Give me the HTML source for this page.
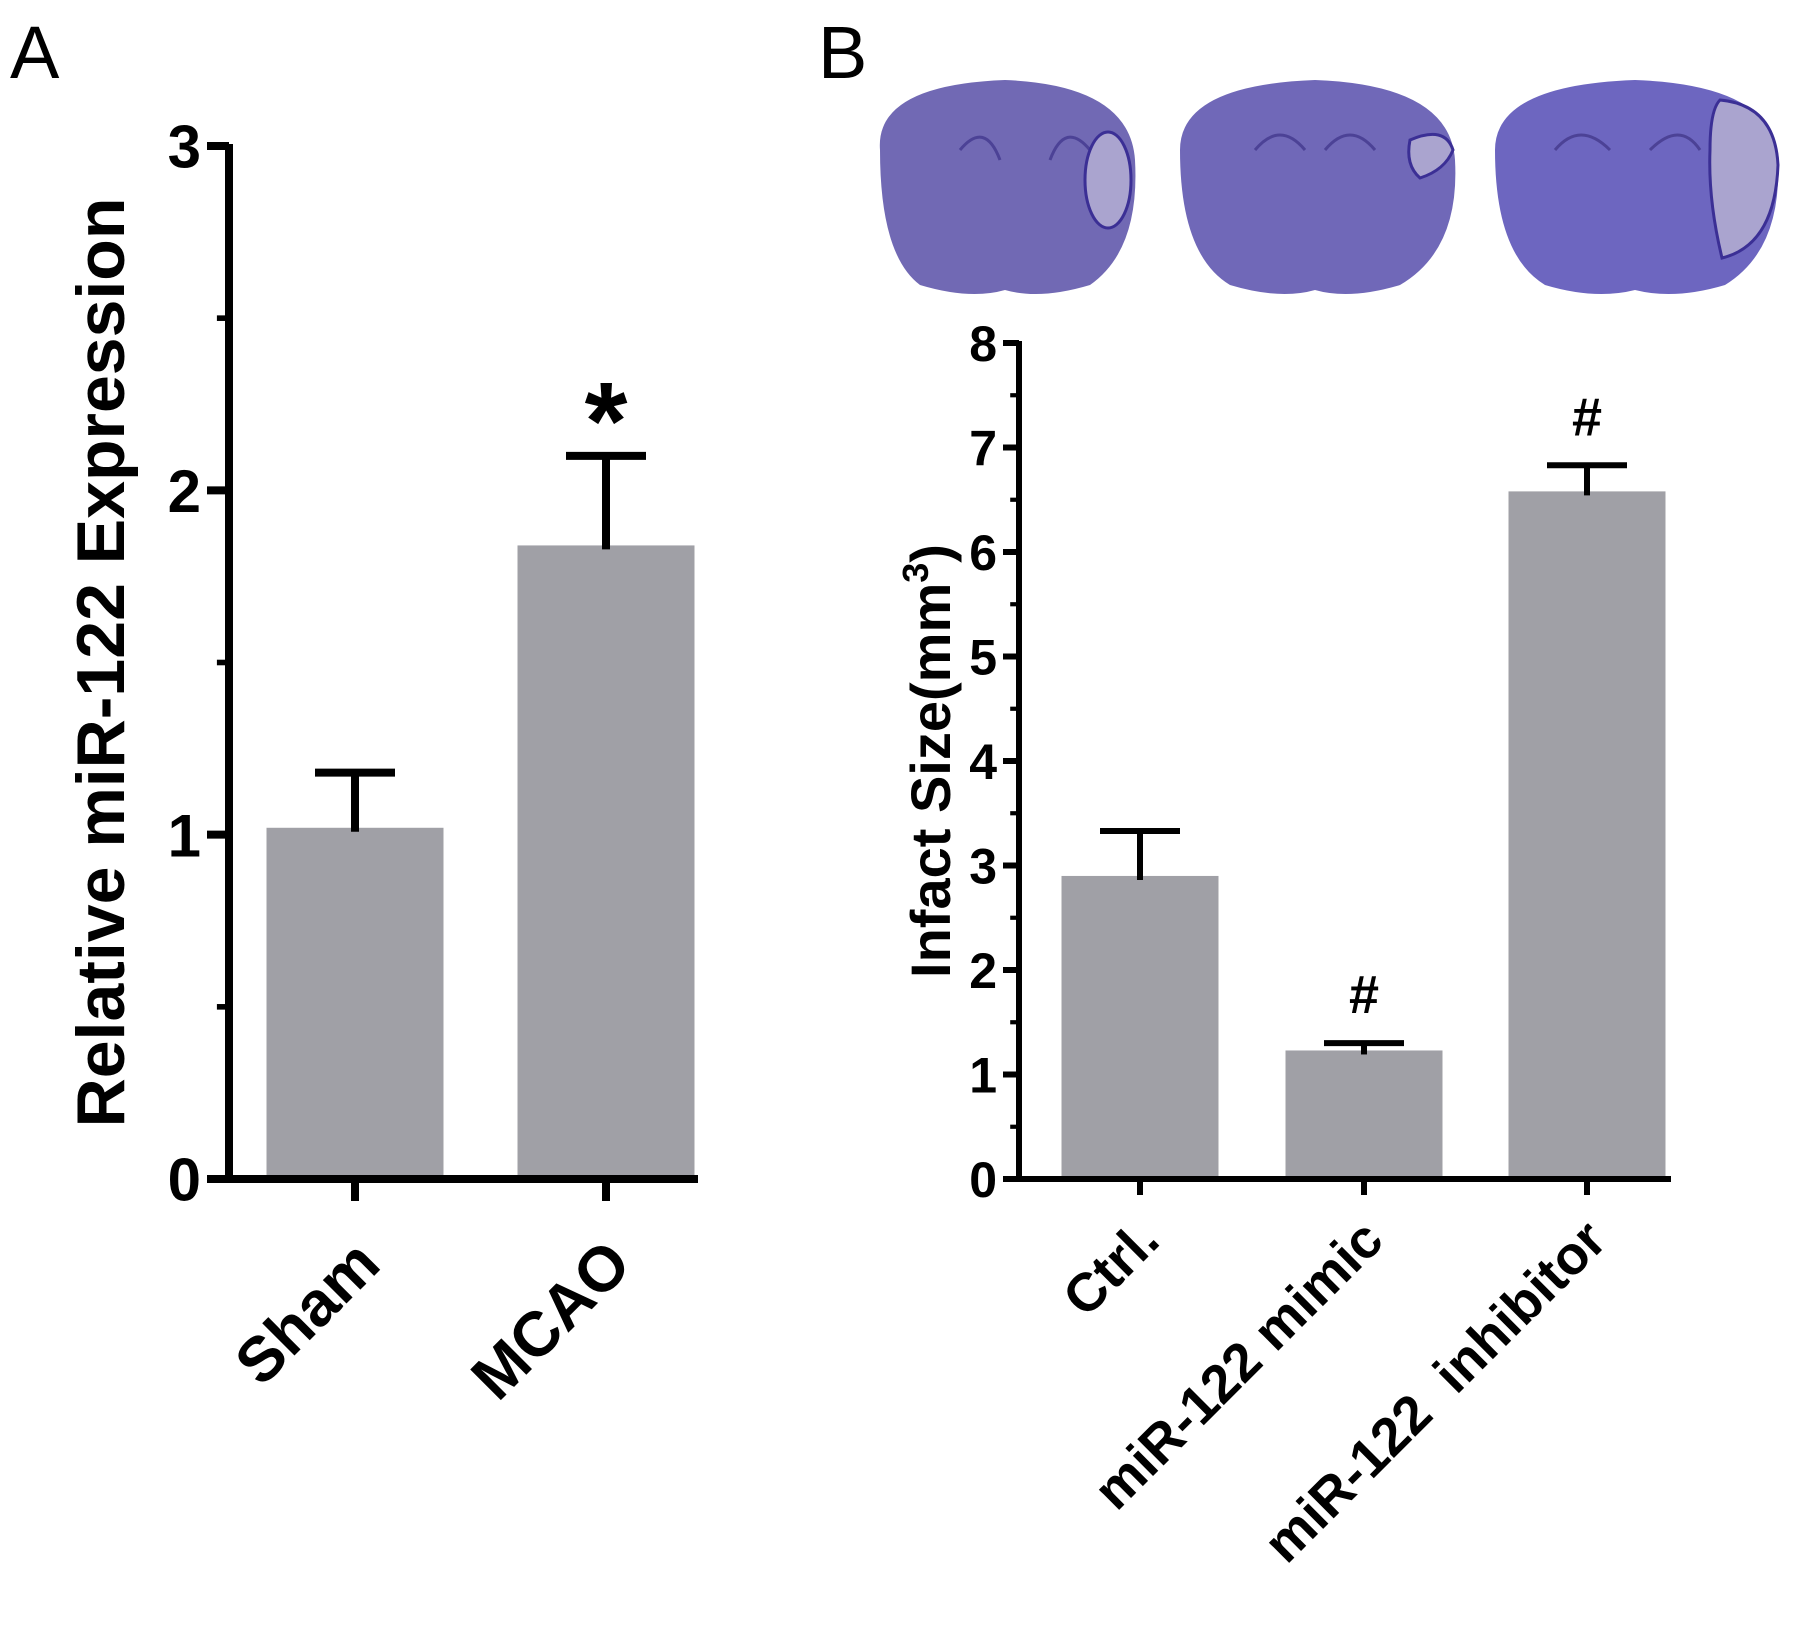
<!DOCTYPE html>
<html><head><meta charset="utf-8"><style>
html,body{margin:0;padding:0;background:#fff}
svg{display:block}
text{font-family:"Liberation Sans",Arial,sans-serif}
</style></head><body>
<svg id="fig" width="1795" height="1631" viewBox="0 0 1795 1631" xmlns="http://www.w3.org/2000/svg">
<text x="10" y="78" font-size="74">A</text>
<text x="818" y="78" font-size="74">B</text>
<g>
  <g>
    <path d="M880,150 Q875,85 1005,80 Q1130,85 1135,160 Q1140,250 1090,285 Q1040,300 1005,290 Q970,300 920,285 Q880,255 880,150Z" fill="#7169b4"/>
    <path d="M960,150 Q985,120 1000,160 M1050,160 Q1065,120 1090,150" stroke="#4c4296" stroke-width="3" fill="none"/>
    <ellipse cx="1108" cy="180" rx="23" ry="48" fill="#aaa4cf" stroke="#3b2f95" stroke-width="3"/>
  </g>
  <g>
    <path d="M1180,150 Q1180,85 1315,80 Q1450,85 1455,160 Q1460,250 1400,285 Q1350,300 1315,290 Q1280,300 1230,285 Q1180,255 1180,150Z" fill="#7068b8"/>
    <path d="M1255,150 Q1280,120 1305,150 M1325,150 Q1350,120 1375,150" stroke="#4c4296" stroke-width="3" fill="none"/>
    <path d="M1410,140 Q1445,125 1453,150 Q1445,170 1420,178 Q1405,165 1410,140Z" fill="#aaa4cf" stroke="#3b2f95" stroke-width="3"/>
  </g>
  <g>
    <path d="M1495,150 Q1495,85 1635,80 Q1775,85 1778,160 Q1782,250 1725,285 Q1675,300 1635,290 Q1595,300 1545,285 Q1495,255 1495,150Z" fill="#6d66c0"/>
    <path d="M1555,150 Q1580,120 1610,150 M1650,150 Q1680,120 1700,150" stroke="#4c4296" stroke-width="3" fill="none"/>
    <path d="M1720,100 Q1775,105 1778,165 Q1775,245 1722,258 Q1708,200 1710,150 Q1710,110 1720,100Z" fill="#aaa4cf" stroke="#3b2f95" stroke-width="3"/>
  </g>
</g>
<g id="chartA"></g>
<g id="chartB"></g>
</svg>
<script>
const catsA = ["Sham","MCAO"];
const valsA = [1.02,1.84];
const errA = [0.16,0.26];
const ticksA = ["0","1","2","3"];
const sigA = ["","*"];
const catsB = ["Ctrl.","miR-122 mimic","miR-122\u00a0 inhibitor"];
const valsB = [2.9,1.23,6.58];
const errB = [0.43,0.07,0.25];
const ticksB = ["0","1","2","3","4","5","6","7","8"];
const sigB = ["","#","#"];
const NS="http://www.w3.org/2000/svg";
function mk(p,t,a){const e=document.createElementNS(NS,t);for(const k in a)e.setAttribute(k,a[k]);p.appendChild(e);return e;}
function draw(g,o){
  const y=v=>o.y0-(v/o.max)*(o.y0-o.yTop);
  const ax=mk(g,'line',{x1:o.x0,y1:o.yTop-2,x2:o.x0,y2:o.y0+3,stroke:'#000','stroke-width':o.lw});
  
  
  const bx=mk(g,'line',{x1:o.x0-o.lw/2,y1:o.y0,x2:o.xEnd,y2:o.y0,stroke:'#000','stroke-width':o.lw});
  
  
  for(let i=0;i<o.ticks.length;i++){
    const v=+o.ticks[i];
    mk(g,'line',{x1:o.x0-o.tl,y1:y(v),x2:o.x0,y2:y(v),stroke:'#000','stroke-width':o.lw});
    const t=mk(g,'text',{x:o.x0-o.tl-6,y:y(v)+o.fs*0.36,'font-size':o.fs,'font-weight':'bold','text-anchor':'end'});
    t.textContent=o.ticks[i];
    
    
    if(i<o.ticks.length-1){const m=v+0.5;mk(g,'line',{x1:o.x0-o.tl*0.55,y1:y(m),x2:o.x0,y2:y(m),stroke:'#000','stroke-width':o.lw*0.7});}
  }
  for(let i=0;i<o.cats.length;i++){
    const c=o.xs[i];
    const b=mk(g,'rect',{x:c-o.bw/2,y:y(o.vals[i]),width:o.bw,height:o.y0-y(o.vals[i])-o.lw/2,fill:'#a0a0a6'});
    
    
    const te=y(o.vals[i]+o.err[i]);
    mk(g,'line',{x1:c,y1:y(o.vals[i])+4,x2:c,y2:te,stroke:'#000','stroke-width':o.lw});
    mk(g,'line',{x1:c-o.cap,y1:te,x2:c+o.cap,y2:te,stroke:'#000','stroke-width':o.lw});
    mk(g,'line',{x1:c,y1:o.y0,x2:c,y2:o.y0+o.tl,stroke:'#000','stroke-width':o.lw});
    if(o.sig[i]){const s=mk(g,'text',{x:c,y:te-o.sigOff,'font-size':o.sigFs,'font-weight':'bold','text-anchor':'middle'});s.textContent=o.sig[i];
      
      }
    const lx=c+o.lxo, ly=o.y0+o.tl+o.lyo;
    const l=mk(g,'text',{x:lx,y:ly,'font-size':o.lfs,'font-weight':'bold','text-anchor':'end',transform:`rotate(-45 ${lx} ${ly})`});
    l.textContent=o.cats[i];
    
    
  }
  const tx=o.titleX, ty=(o.y0+o.yTop)/2;
  const tt=mk(g,'text',{x:tx,y:ty,'font-size':o.tfs,'font-weight':'bold','text-anchor':'middle',transform:`rotate(-90 ${tx} ${ty})`});
  tt.innerHTML=o.title;
  
  
}
draw(document.getElementById('chartA'),{x0:229,y0:1179,yTop:146,xEnd:698,max:3,ticks:ticksA,cats:catsA,vals:valsA,err:errA,sig:sigA,
  xs:[355,606],bw:177,cap:40,lw:8,tl:22,fs:60,lfs:63,tfs:68,sigFs:110,sigOff:-3,lxo:28,lyo:66,titleX:124,
  title:'Relative miR-122 Expression'});
draw(document.getElementById('chartB'),{x0:1019,y0:1179,yTop:343,xEnd:1671,max:8,ticks:ticksB,cats:catsB,vals:valsB,err:errB,sig:sigB,
  xs:[1140,1364,1587],bw:157,cap:40,lw:6,tl:16,fs:50,lfs:54,tfs:56,sigFs:54,sigOff:30,lxo:22,lyo:48,titleX:950,
  title:'Infact Size(mm<tspan dy="-22" font-size="36">3</tspan><tspan dy="22">)</tspan>'});
</script>
</body></html>
